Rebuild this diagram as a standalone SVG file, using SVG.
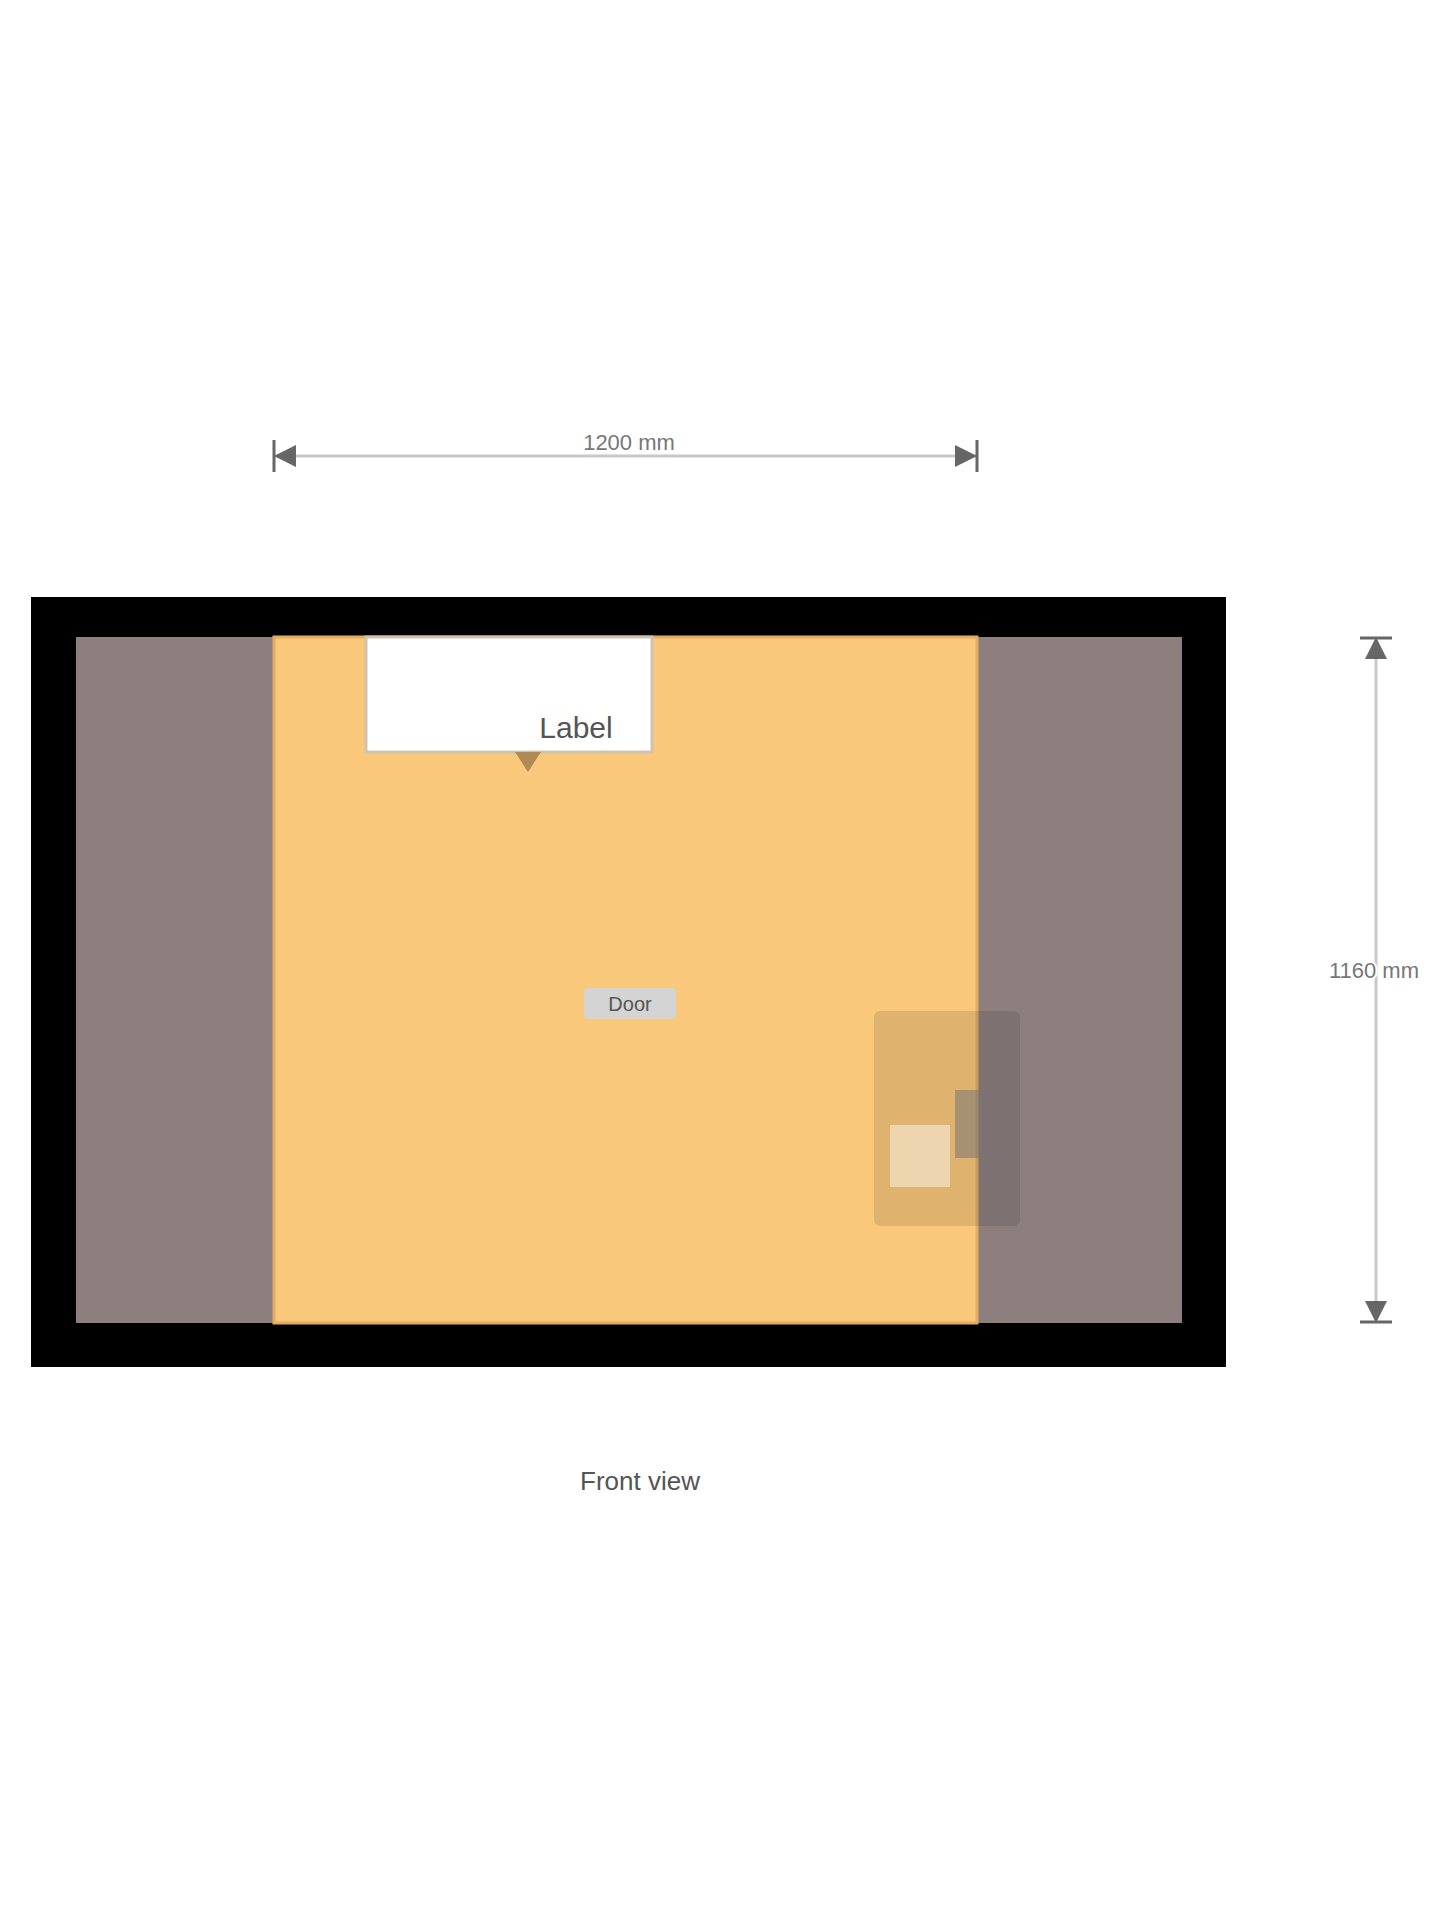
<svg xmlns="http://www.w3.org/2000/svg" width="1440" height="1920" viewBox="0 0 1440 1920">
  <style>
    .dimline { stroke: #c8c8c8; stroke-width: 3; fill: none; }
    .tick { stroke: #666666; stroke-width: 3; }
    .dimtext { font-family: "Liberation Sans", Arial, sans-serif; font-size: 22px; fill: #777777; text-anchor: middle; paint-order: stroke; stroke: #ffffff; stroke-width: 4px; }
    .label { font-family: "Liberation Sans", Arial, sans-serif; fill: #555555; text-anchor: middle; }
  </style>
  <defs>
    <marker id="arrow" viewBox="0 0 10 10" refX="10" refY="5" markerWidth="28" markerHeight="22" markerUnits="userSpaceOnUse" orient="auto-start-reverse">
      <path d="M0,0 L10,5 L0,10 z" fill="#666666"/>
    </marker>
  </defs>
  <rect width="1440" height="1920" fill="#ffffff"/>

  <g id="frame">
    <rect x="31" y="597" width="1195" height="770" fill="#000000"/>
  </g>
  <g id="panel-left">
    <rect x="76" y="637" width="198" height="686" fill="#8c7f7e"/>
  </g>
  <g id="panel-right">
    <rect x="977" y="637" width="205" height="686" fill="#8c7f7e"/>
  </g>
  <g id="door">
    <rect x="274" y="637" width="703" height="686" fill="#f9c87b" stroke="#e3ae62" stroke-width="3"/>
  </g>
  <g id="sign">
    <rect x="366" y="637" width="286" height="115" fill="#ffffff" stroke="#cfc3b0" stroke-width="3"/>
    <text class="label" x="576" y="738" font-size="30" fill="#666666">Label</text>
    <path d="M515,752 L541,752 L528,772 z" fill="#b08a55"/>
  </g>
  <g id="label-center">
    <rect x="584" y="988" width="92" height="31" rx="4" fill="#d4d4d4"/>
    <text class="label" x="630" y="1011" font-size="20">Door</text>
  </g>
  <g id="handle">
    <rect x="874" y="1011" width="146" height="215" rx="6" fill="#000000" fill-opacity="0.1"/>
    <rect x="890" y="1125" width="60" height="62" fill="#ffffff" fill-opacity="0.45"/>
    <rect x="955" y="1090" width="24" height="68" fill="#777777" fill-opacity="0.55"/>
  </g>

  <g id="connectors">
    <line class="dimline" x1="274" y1="456" x2="977" y2="456" marker-start="url(#arrow)" marker-end="url(#arrow)"/>
    <line class="tick" x1="274" y1="440" x2="274" y2="472"/>
    <line class="tick" x1="977" y1="440" x2="977" y2="472"/>
    <line class="dimline" x1="1376" y1="637" x2="1376" y2="1323" marker-start="url(#arrow)" marker-end="url(#arrow)"/>
    <line class="tick" x1="1360" y1="638" x2="1392" y2="638"/>
    <line class="tick" x1="1360" y1="1322" x2="1392" y2="1322"/>
  </g>

  <g id="dim-top-label">
    <text class="dimtext" x="629" y="450">1200 mm</text>
  </g>
  <g id="dim-right-label">
    <text class="dimtext" x="1374" y="978">1160 mm</text>
  </g>
  <g id="caption">
    <text class="label" x="640" y="1490" font-size="26" fill="#444444">Front view</text>
  </g>
</svg>
